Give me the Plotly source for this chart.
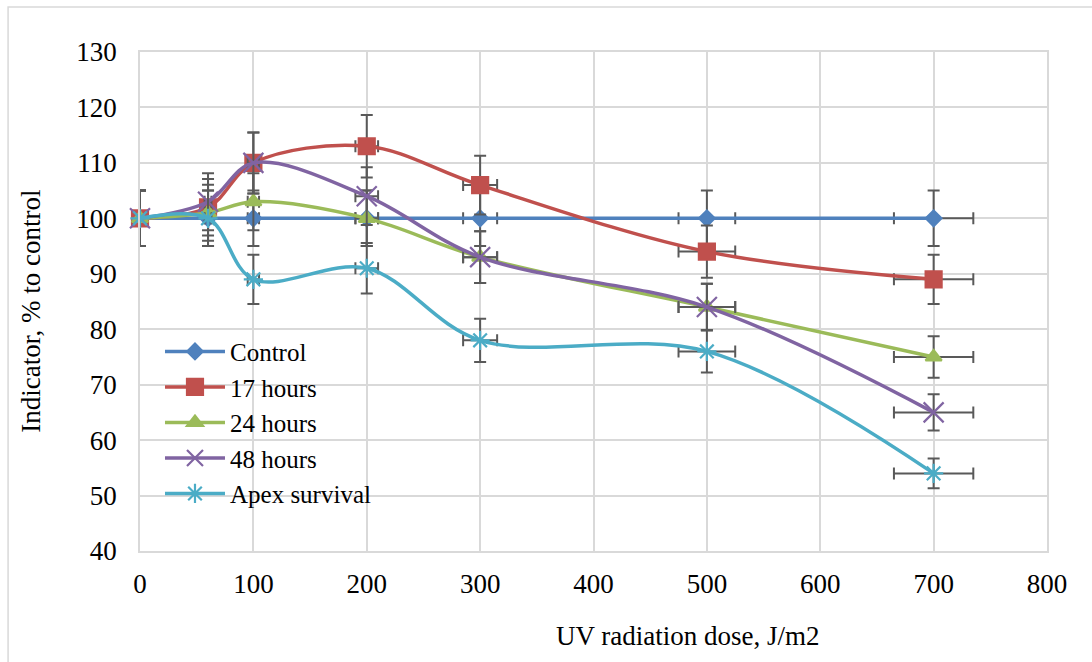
import plotly.graph_objects as go

dose = [0, 60, 100, 200, 300, 500, 700]
control = [100, 100, 100, 100, 100, 100, 100]
h17 = [100, 102, 110, 113, 106, 94, 89]
h24 = [100, 101, 103, 100, 93, 84, 75]
h48 = [100, 103, 110, 104, 93, 84, 65]
apex = [100, 100, 89, 91, 78, 76, 54]
series_names = ["Control", "17 hours", "24 hours", "48 hours", "Apex survival"]

W, H = 1092, 662
L, R, T, B = 140, 44.5, 52, 110.5
PW = W - L - R
PH = H - T - B

def px_x(p):
    return (p - L) / PW

def px_y(p):
    return (H - B - p) / PH

FONT = "Liberation Serif"
FS = 27
ERR = "#595959"

styles = [
    (control, "#4F81BD", "diamond", 12, "linear"),
    (h17, "#C0504D", "square", 16, "spline"),
    (h24, "#9BBB59", "triangle-up", 14, "spline"),
    (h48, "#8064A2", "x-thin-open", 20, "spline"),
    (apex, "#4BACC6", "asterisk-open", 16, "spline"),
]

fig = go.Figure()
for name, (vals, col, sym, sz, shape) in zip(series_names, styles):
    fig.add_trace(go.Scatter(
        x=dose, y=vals, name=name, mode="lines+markers",
        line=dict(color=col, width=3.5, shape=shape, smoothing=1),
        marker=dict(symbol=sym, size=sz, color=col, line=dict(color=col, width=2.2)),
        error_y=dict(type="percent", value=5, color=ERR, thickness=2, width=6),
        error_x=dict(type="percent", value=5, color=ERR, thickness=2, width=6),
        cliponaxis=False,
    ))

fig.update_layout(
    width=W, height=H,
    margin=dict(l=L, r=R, t=T, b=B),
    paper_bgcolor="white", plot_bgcolor="white",
    font=dict(family=FONT, size=FS, color="black"),
    showlegend=True,
    legend=dict(x=px_x(160), y=px_y(329), xanchor="left", yanchor="top",
                bgcolor="rgba(0,0,0,0)", font=dict(size=25, family=FONT),
                tracegroupgap=0, itemwidth=60),
    xaxis=dict(range=[0, 800], dtick=100, showgrid=True, gridcolor="#D9D9D9", gridwidth=1.5,
               showline=True, linecolor="#D9D9D9", linewidth=1.5, mirror=True,
               ticks="", zeroline=False, ticklabelstandoff=8,
               tickfont=dict(size=FS, family=FONT)),
    yaxis=dict(range=[40, 130], dtick=10, showgrid=True, gridcolor="#D9D9D9", gridwidth=1.5,
               showline=True, linecolor="#D9D9D9", linewidth=1.5, mirror=True,
               ticks="", zeroline=False, ticklabelstandoff=16,
               tickfont=dict(size=FS, family=FONT)),
    shapes=[dict(type="rect", xref="paper", yref="paper",
                 x0=px_x(8), x1=px_x(1110), y0=px_y(700), y1=px_y(7),
                 line=dict(color="#D9D9D9", width=1.5), layer="below")],
    annotations=[
        dict(text="UV radiation dose, J/m2", xref="paper", yref="paper",
             x=px_x(688), y=px_y(637), xanchor="center", yanchor="middle",
             showarrow=False, font=dict(size=FS, family=FONT)),
        dict(text="Indicator, % to control", xref="paper", yref="paper",
             x=px_x(31), y=px_y(312), xanchor="center", yanchor="middle",
             textangle=-90, showarrow=False, font=dict(size=FS, family=FONT)),
    ],
)

fig.write_html("out.html")
